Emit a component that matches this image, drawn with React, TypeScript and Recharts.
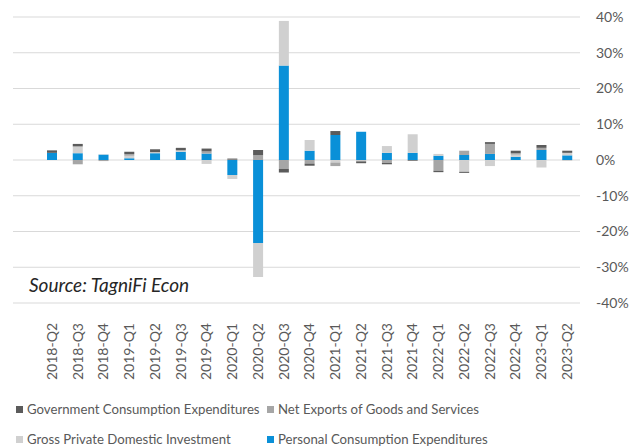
import { Bar, BarChart, CartesianGrid, XAxis, YAxis } from 'recharts';

const quarters = [
  '2018-Q2', '2018-Q3', '2018-Q4', '2019-Q1', '2019-Q2', '2019-Q3', '2019-Q4',
  '2020-Q1', '2020-Q2', '2020-Q3', '2020-Q4', '2021-Q1', '2021-Q2', '2021-Q3',
  '2021-Q4', '2022-Q1', '2022-Q2', '2022-Q3', '2022-Q4', '2023-Q1', '2023-Q2',
];

// contributions to growth, in percentage points
const personalConsumption = [
  2.0, 1.9, 1.5, 0.5, 1.9, 2.3, 1.8, -4.2, -23.2, 26.4, 2.6, 7.0, 7.9, 2.0,
  2.0, 1.2, 1.4, 1.7, 0.9, 2.8, 1.3,
];
const privateInvestment = [
  0.0, 1.9, 0.1, 0.7, 0.3, 0.4, -1.1, -1.1, -9.5, 12.5, 3.0, -0.7, -0.2, 1.9,
  5.2, 0.5, -3.3, -1.7, 0.6, -2.1, 0.7,
];
const netExports = [
  0.0, -1.2, -0.3, 0.5, 0.0, 0.0, 0.6, 0.1, 1.3, -2.5, -1.0, -1.0, -0.2, -0.8,
  0.0, -3.0, 1.2, 2.8, 0.4, 0.6, -0.1,
];
const government = [
  0.7, 0.7, 0.0, 0.6, 0.8, 0.7, 0.8, 0.3, 1.5, -1.0, -0.6, 1.1, -0.5, -0.4,
  -0.2, -0.4, -0.3, 0.5, 0.7, 0.8, 0.6,
];

const yTicks = [-40, -30, -20, -10, 0, 10, 20, 30, 40];

const COLORS = {
  gov: '#5b5b5b',
  nx: '#a6a6a6',
  gpdi: '#d0d0d0',
  pce: '#0a90d8',
};

const FONT = 'Lato, "Open Sans", sans-serif';
const TEXT = '#595959';

const rows = quarters.map((q, i) => ({
  quarter: q,
  pce: personalConsumption[i],
  gpdi: privateInvestment[i],
  nx: netExports[i],
  gov: government[i],
}));

const legendItems = [
  { label: 'Government Consumption Expenditures', color: COLORS.gov, left: 16, top: 409 },
  { label: 'Net Exports of Goods and Services', color: COLORS.nx, left: 267, top: 409 },
  { label: 'Gross Private Domestic Investment', color: COLORS.gpdi, left: 16, top: 439 },
  { label: 'Personal Consumption Expenditures', color: COLORS.pce, left: 267, top: 439 },
];

function QuarterTick({ x, y, payload }: any) {
  return (
    <text
      x={x}
      y={y + 12}
      transform={`rotate(-90 ${x} ${y + 12})`}
      textAnchor="end"
      dy="0.35em"
      fill={TEXT}
      fontSize={14}
      fontFamily={FONT}
    >
      {payload.value}
    </text>
  );
}

export default function App() {
  return (
    <div style={{ position: 'absolute', left: 0, top: 0, width: 639, height: 448, background: '#fff' }}>
      <BarChart
        width={639}
        height={400}
        data={rows}
        stackOffset="sign"
        margin={{ top: 17, right: 0, left: 13, bottom: 27 }}
      >
        <CartesianGrid vertical={false} stroke="#d9d9d9" strokeWidth={1.2} />
        <XAxis
          dataKey="quarter"
          interval={0}
          height={70}
          padding={{ left: 26, right: 0 }}
          axisLine={false}
          tickLine={false}
          tick={<QuarterTick />}
        />
        <YAxis
          orientation="right"
          width={59}
          domain={[-40, 40]}
          ticks={yTicks}
          axisLine={false}
          tickLine={false}
          tickMargin={10}
          tickFormatter={(v: number) => `${v}%`}
          tick={{ fill: TEXT, fontSize: 14, fontFamily: FONT, textAnchor: 'start' }}
        />
        <Bar dataKey="pce" stackId="a" fill={COLORS.pce} barSize={10} isAnimationActive={false} />
        <Bar dataKey="gpdi" stackId="a" fill={COLORS.gpdi} barSize={10} isAnimationActive={false} />
        <Bar dataKey="nx" stackId="a" fill={COLORS.nx} barSize={10} isAnimationActive={false} />
        <Bar dataKey="gov" stackId="a" fill={COLORS.gov} barSize={10} isAnimationActive={false} />
      </BarChart>

      <div
        style={{
          position: 'absolute',
          left: 29,
          top: 273,
          fontFamily: FONT,
          fontStyle: 'italic',
          fontSize: 19,
          color: '#262626',
          lineHeight: '24px',
        }}
      >
        Source: TagniFi Econ
      </div>

      {legendItems.map((item) => (
        <div
          key={item.label}
          style={{
            position: 'absolute',
            left: item.left,
            top: item.top - 8,
            height: 16,
            display: 'flex',
            alignItems: 'center',
            fontFamily: FONT,
            fontSize: 13.2,
            color: TEXT,
            whiteSpace: 'nowrap',
          }}
        >
          <span style={{ width: 7, height: 7, background: item.color, marginRight: 4 }} />
          {item.label}
        </div>
      ))}
    </div>
  );
}
